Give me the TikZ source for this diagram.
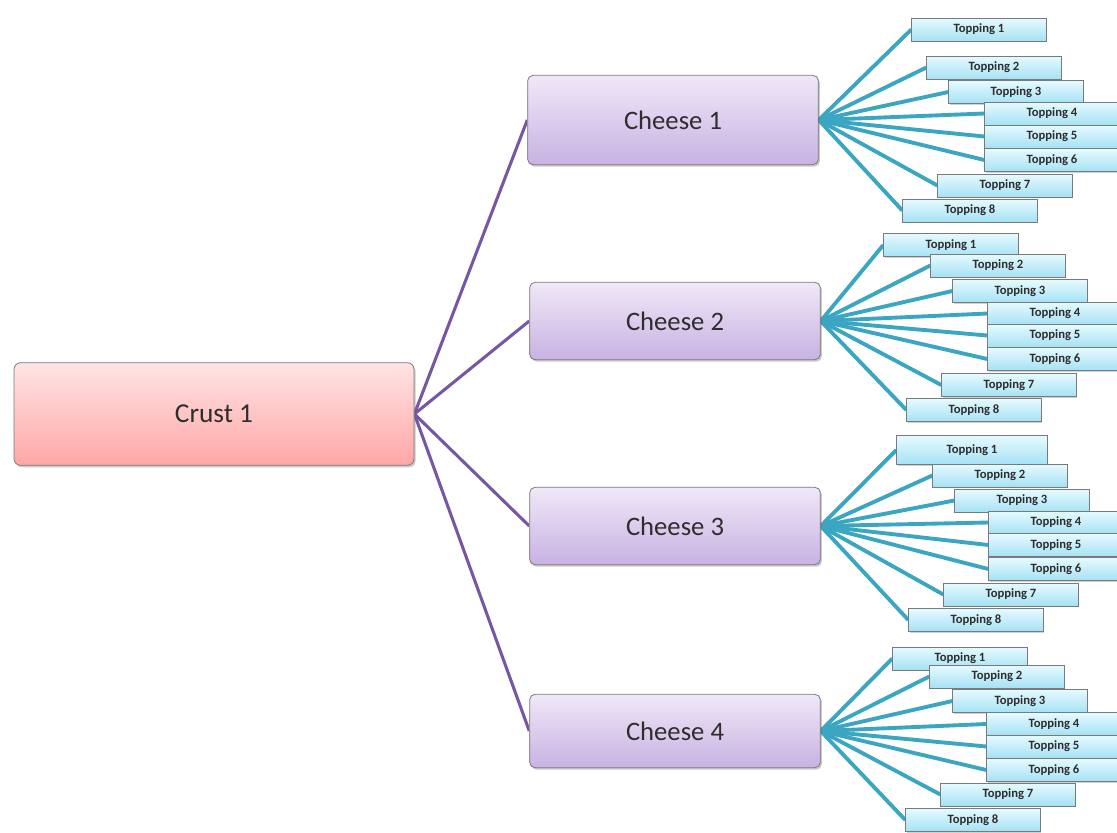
\documentclass[tikz,border=0pt]{standalone}
\usepackage{fontspec}
\setmainfont{Carlito}
\usetikzlibrary{shadows,backgrounds}

\definecolor{crusttop}{HTML}{FFE4E4}
\definecolor{crustbot}{HTML}{FFA6A6}
\definecolor{cheesetop}{HTML}{F0E8F8}
\definecolor{cheesebot}{HTML}{C8B2E2}
\definecolor{toptop}{HTML}{E6FAFF}
\definecolor{topbot}{HTML}{A6E2F4}
\definecolor{boxline}{HTML}{7A7A7A}
\definecolor{purpleline}{HTML}{7657A3}
\definecolor{tealline}{HTML}{3AA6C2}
\definecolor{inktext}{HTML}{2E2E2E}

\tikzset{
  softshadow/.style={drop shadow={shadow xshift=1.2pt, shadow yshift=-1.5pt, opacity=0.35, fill=black!60}},
  crustbox/.style={draw=boxline, line width=0.6pt, rounded corners=5pt,
    top color=crusttop, bottom color=crustbot, softshadow,
    minimum width=300pt, minimum height=77pt, inner sep=0pt,
    font=\fontsize{20.5}{24}\selectfont, text=inktext},
  cheesebox/.style={draw=boxline, line width=0.6pt, rounded corners=4pt,
    top color=cheesetop, bottom color=cheesebot, softshadow,
    minimum width=218pt, inner sep=0pt,
    font=\fontsize{20}{24}\selectfont, text=inktext},
  toppingbox/.style={draw=boxline, line width=0.5pt,
    top color=toptop, bottom color=topbot,
    drop shadow={shadow xshift=0.8pt, shadow yshift=-1pt, opacity=0.3, fill=black!60},
    minimum width=101pt, minimum height=17pt, inner sep=0pt,
    font=\bfseries\fontsize{9.5}{11}\selectfont, text=inktext},
  crustlink/.style={draw=purpleline, line width=2.3pt},
  toplink/.style={draw=tealline, line width=2.9pt},
}

\begin{document}
\begin{tikzpicture}[x=0.75pt, y=-0.75pt]
\useasboundingbox (0,0) rectangle (1117,832);
\clip (0,0) rectangle (1117,832);

% root
\node[crustbox] (crust) at (214,414) {Crust 1};

% second level
\node[cheesebox, minimum height=67pt] (c1) at (673,120) {Cheese 1};
\node[cheesebox, minimum height=58pt] (c2) at (675,321) {Cheese 2};
\node[cheesebox, minimum height=58pt] (c3) at (675,526) {Cheese 3};
\node[cheesebox, minimum height=55pt] (c4) at (675,731) {Cheese 4};

% toppings of each cheese
\foreach \i/\x/\y in {1/979/29.5, 2/994/67.5, 3/1016/92, 4/1052/113.5,
                      5/1052/136.5, 6/1052/160, 7/1005/185.5, 8/970/210.5}
  \node[toppingbox] (c1t\i) at (\x,\y) {Topping \i};

\foreach \i/\x/\y in {1/951/245, 2/998/265.5, 3/1020/291, 4/1055/313.5,
                      5/1055/335.5, 6/1055/359, 7/1009/385, 8/974/410}
  \node[toppingbox] (c2t\i) at (\x,\y) {Topping \i};

\node[toppingbox, minimum width=113pt, minimum height=22pt] (c3t1) at (972,450) {Topping 1};
\foreach \i/\x/\y in {2/1000/475.5, 3/1022/500.5, 4/1056/522.5,
                      5/1056/545, 6/1056/569, 7/1011/594.5, 8/976/620}
  \node[toppingbox] (c3t\i) at (\x,\y) {Topping \i};

\foreach \i/\x/\y in {1/960/658.5, 2/997/676.5, 3/1020/701, 4/1054/724,
                      5/1054/746.5, 6/1054/770, 7/1008/794.5, 8/973/820}
  \node[toppingbox] (c4t\i) at (\x,\y) {Topping \i};

% connectors
\begin{scope}[on background layer]
  \foreach \c in {1,2,3,4}
    \draw[crustlink] (crust.east) -- (c\c.west);
  \foreach \c in {1,2,3,4}
    \foreach \i in {1,...,8}
      \draw[toplink] (c\c.east) -- (c\c t\i.west);
\end{scope}
\end{tikzpicture}
\end{document}
